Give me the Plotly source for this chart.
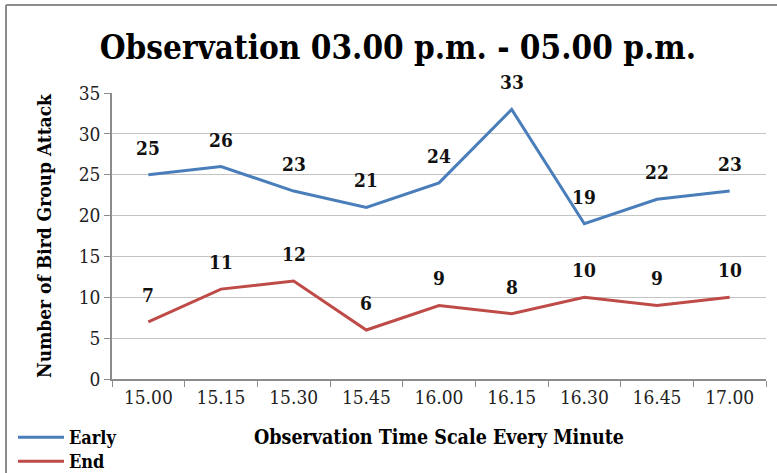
import plotly.graph_objects as go

categories = ["15.00", "15.15", "15.30", "15.45", "16.00", "16.15", "16.30", "16.45", "17.00"]
early = [25, 26, 23, 21, 24, 33, 19, 22, 23]
end = [7, 11, 12, 6, 9, 8, 10, 9, 10]
y_ticks = [0, 5, 10, 15, 20, 25, 30, 35]

BLUE = "#4A7EBB"
RED = "#BE4B48"
SERIF = "DejaVu Serif Condensed"

fig = go.Figure()
fig.add_trace(go.Scatter(x=categories, y=early, mode="lines", name="<b>Early</b>",
                         line=dict(color=BLUE, width=3), legend="legend", showlegend=True))
fig.add_trace(go.Scatter(x=categories, y=end, mode="lines", name="<b>End</b>",
                         line=dict(color=RED, width=3), legend="legend2", showlegend=True))

annotations = []
for series in (early, end):
    for i, v in enumerate(series):
        annotations.append(dict(x=i, y=v, xref="x", yref="y", text="<b>%d</b>" % v,
                                showarrow=False, yshift=27,
                                font=dict(family=SERIF, size=19, color="#111111")))

legend_style = dict(xanchor="left", yanchor="top", orientation="v", visible=True,
                    font=dict(family=SERIF, size=18, color="#000000"),
                    bgcolor="rgba(0,0,0,0)", itemwidth=46)

fig.update_layout(
    width=777, height=473, showlegend=True,
    margin=dict(l=112, r=11, t=93, b=94, autoexpand=False),
    paper_bgcolor="white", plot_bgcolor="white",
    title=dict(text="<b>Observation 03.00 p.m. - 05.00 p.m.</b>", x=0.512, xanchor="center",
               y=1 - 47 / 473, yanchor="middle",
               font=dict(family=SERIF, size=33, color="#000000")),
    xaxis=dict(type="category", range=[-0.5, 8.5], showgrid=False, showline=True,
               linecolor="#8c8c8c", linewidth=1.5, automargin=False,
               ticks="outside", tickson="boundaries", ticklen=6, tickcolor="#8c8c8c",
               tickangle=0,
               tickfont=dict(family=SERIF, size=19, color="#222222"),
               title=dict(text="<b>Observation Time Scale Every Minute</b>", standoff=24,
                          font=dict(family=SERIF, size=19.5, color="#000000"))),
    yaxis=dict(range=[0, 35], tickvals=y_ticks, showgrid=True, gridcolor="#c4c4c4", gridwidth=1,
               showline=True, linecolor="#8c8c8c", linewidth=1.5, ticks="outside", ticklen=6,
               tickcolor="#8c8c8c", zeroline=False, automargin=False,
               tickfont=dict(family=SERIF, size=19, color="#222222"),
               title=dict(text="<b>Number of Bird Group Attack</b>", standoff=22,
                          font=dict(family=SERIF, size=19, color="#000000"))),
    legend=dict(x=(13 - 112) / 654, y=(379 - 419) / 286, **legend_style),
    legend2=dict(x=(13 - 112) / 654, y=(379 - 443) / 286, **legend_style),
    annotations=annotations,
    shapes=[
        dict(type="line", xref="paper", yref="paper", x0=(6 - 112) / 654, x1=1.2,
             y0=1 + (93 - 5) / 286, y1=1 + (93 - 5) / 286, line=dict(color="#8c8c8c", width=2)),
        dict(type="line", xref="paper", yref="paper", x0=(6 - 112) / 654, x1=(6 - 112) / 654,
             y0=1 + (93 - 5) / 286, y1=-0.5, line=dict(color="#8c8c8c", width=2)),
    ],
)

fig.write_html("out.html", config={"displayModeBar": False},
               post_script="document.body.style.margin='0';")
